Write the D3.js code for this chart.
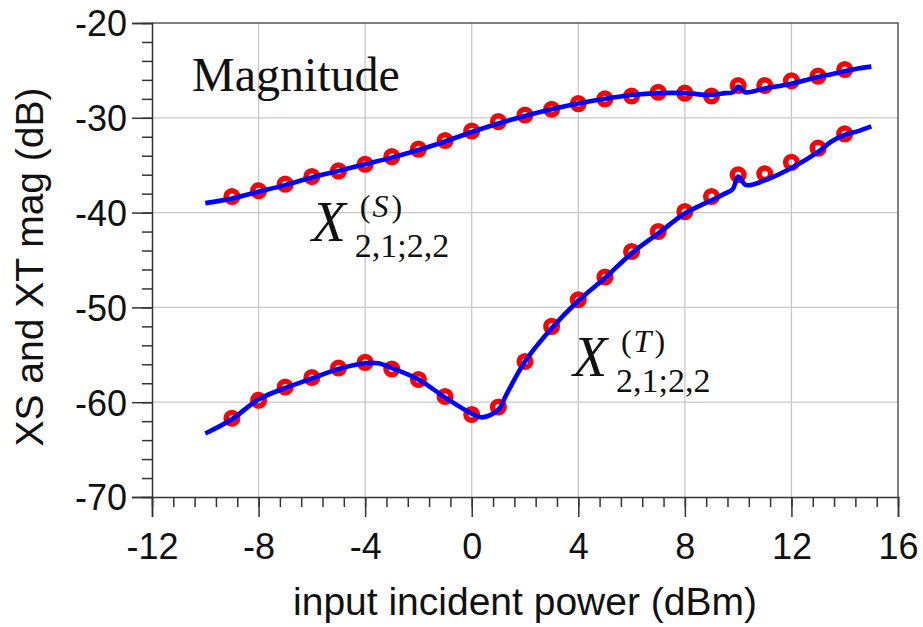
<!DOCTYPE html>
<html>
<head>
<meta charset="utf-8">
<script src="https://cdn.jsdelivr.net/npm/d3@7"></script>
<style>
  body { margin: 0; background: #fff; }
  svg { display: block; }
  .tick-label { font-family: "Liberation Sans", Arial, sans-serif; font-size: 36px; fill: #111; }
  .axis-title { font-family: "Liberation Sans", Arial, sans-serif; font-size: 39px; fill: #111; }
  .serif { font-family: "Liberation Serif", "Times New Roman", serif; fill: #111; }
</style>
</head>
<body>
<div id="chart"></div>
<script>
// measured points (red circles), x = input power in dBm
const markerPower = [-9, -8, -7, -6, -5, -4, -3, -2, -1, 0, 1, 2, 3, 4, 5, 6, 7, 8, 9, 10, 11, 12, 13, 14];
const xsMarkers = [-38.3, -37.7, -37.0, -36.2, -35.6, -34.9, -34.1, -33.3, -32.4, -31.4, -30.4, -29.7,
                   -29.1, -28.5, -28.0, -27.7, -27.3, -27.4, -27.7, -26.6, -26.6, -26.1, -25.6, -24.9];
const xtMarkers = [-61.7, -59.8, -58.4, -57.4, -56.4, -55.8, -56.5, -57.6, -59.4, -61.3, -60.5, -55.7,
                   -52.0, -49.2, -46.8, -44.1, -42.0, -39.9, -38.3, -36.0, -35.9, -34.7, -33.2, -31.7];

// simulated curves (blue lines)
const xsLinePower = [-10, -9, -8, -7, -6, -5, -4, -3, -2, -1, 0, 1, 2, 3, 4, 5, 6, 7, 8, 9, 9.5, 9.8, 10, 10.25,
                     11, 12, 13, 13.5, 14, 14.5, 15];
const xsLine = [-39.0, -38.5, -37.8, -37.1, -36.3, -35.6, -34.9, -34.2, -33.4, -32.5, -31.5, -30.6, -29.8,
                -29.1, -28.5, -28.0, -27.6, -27.4, -27.4, -27.6, -27.4, -27.3, -26.7, -27.3,
                -26.9, -26.4, -25.7, -25.4, -25.1, -24.8, -24.6];
const xtLinePower = [-10, -9, -8, -7, -6, -5, -4, -3.5, -3, -2, -1, 0, 0.4, 1, 1.3, 2, 3, 4, 5, 6, 7, 8, 9,
                     9.5, 9.8, 10, 10.3, 11, 12, 13, 13.5, 14, 14.5, 15];
const xtLine = [-63.3, -61.8, -59.7, -58.5, -57.5, -56.5, -55.9, -55.9, -56.4, -57.6, -59.5, -61.2, -61.6,
                -60.8, -59.2, -55.7, -52.2, -49.3, -46.9, -44.3, -42.2, -40.1, -38.7,
                -38.0, -37.5, -36.2, -37.1, -36.6, -35.3, -33.6, -32.5, -31.8, -31.4, -30.9];

const xTicks = [-12, -8, -4, 0, 4, 8, 12, 16];
const yTicks = [-70, -60, -50, -40, -30, -20];

const width = 923, height = 627;
const margin = { top: 23, right: 25, bottom: 130, left: 152 };

const svg = d3.select('#chart').append('svg')
    .attr('width', width)
    .attr('height', height);

const x = d3.scaleLinear().domain([-12, 16]).range([margin.left, width - margin.right]);
const y = d3.scaleLinear().domain([-70, -20]).range([height - margin.bottom, margin.top]);

// grid
svg.append('g').selectAll('line').data(xTicks.slice(1, -1)).join('line')
    .attr('x1', d => x(d)).attr('x2', d => x(d))
    .attr('y1', y(-70)).attr('y2', y(-20))
    .attr('stroke', '#c8c8c8').attr('stroke-width', 1.3);
svg.append('g').selectAll('line').data(yTicks.slice(1, -1)).join('line')
    .attr('x1', x(-12)).attr('x2', x(16))
    .attr('y1', d => y(d)).attr('y2', d => y(d))
    .attr('stroke', '#c8c8c8').attr('stroke-width', 1.3);

// frame top / right
svg.append('path')
    .attr('d', `M${x(-12)},${y(-20)}H${x(16)}V${y(-70)}`)
    .attr('fill', 'none').attr('stroke', '#555').attr('stroke-width', 1.5);

// axes
const xMinor = d3.range(-12, 16.01, 0.8).map(v => +v.toFixed(2));
const yMinor = d3.range(-70, -19.99, 2);
const fmt = d => String(d);  // plain hyphen minus like the original

const xAxis = svg.append('g')
    .attr('transform', `translate(0,${y(-70)})`);
xAxis.call(d3.axisBottom(x).tickValues(xMinor).tickSize(10).tickFormat(''));
xAxis.call(g => g.select('.domain').remove());
xAxis.append('g')
    .call(d3.axisBottom(x).tickValues(xTicks).tickSize(20).tickPadding(8).tickFormat(fmt))
    .call(g => g.selectAll('text').attr('class', 'tick-label').attr('fill', null).attr('font-size', null).attr('font-family', null).attr('dy', '0.95em'));
xAxis.selectAll('.domain').attr('stroke', '#333').attr('stroke-width', 1.5);
xAxis.selectAll('.tick line').attr('stroke', '#333').attr('stroke-width', 1.5);

const yAxis = svg.append('g')
    .attr('transform', `translate(${x(-12)},0)`);
yAxis.call(d3.axisLeft(y).tickValues(yMinor).tickSize(10).tickFormat(''));
yAxis.call(g => g.select('.domain').remove());
yAxis.append('g')
    .call(d3.axisLeft(y).tickValues(yTicks).tickSize(20).tickPadding(5).tickFormat(fmt))
    .call(g => g.selectAll('text').attr('class', 'tick-label').attr('fill', null).attr('font-size', null).attr('font-family', null).attr('dy', '0.36em'));
yAxis.selectAll('.domain').attr('stroke', '#333').attr('stroke-width', 1.5);
yAxis.selectAll('.tick line').attr('stroke', '#333').attr('stroke-width', 1.5);

// axis titles
svg.append('text')
    .attr('class', 'axis-title')
    .attr('x', (x(-12) + x(16)) / 2)
    .attr('y', 615)
    .attr('text-anchor', 'middle')
    .text('input incident power (dBm)');
svg.append('text')
    .attr('class', 'axis-title')
    .attr('transform', `translate(43,${(y(-70) + y(-20)) / 2 + 7}) rotate(-90)`)
    .attr('text-anchor', 'middle')
    .text('XS and XT mag (dB)');

// curves
const line = d3.line().curve(d3.curveCatmullRom.alpha(0.5));
const drawSeries = (px, py, lx, ly) => {
    svg.append('g').selectAll('circle').data(px).join('circle')
        .attr('cx', d => x(d))
        .attr('cy', (d, i) => y(py[i]))
        .attr('r', 5.8)
        .attr('fill', 'none')
        .attr('stroke', '#ff0000')
        .attr('stroke-width', 5.5);
    svg.append('path')
        .datum(lx.map((d, i) => [x(d), y(ly[i])]))
        .attr('fill', 'none')
        .attr('stroke', '#0000ff')
        .attr('stroke-width', 4.6)
        .attr('stroke-linejoin', 'round')
        .attr('d', line);
};
drawSeries(markerPower, xsMarkers, xsLinePower, xsLine);
drawSeries(markerPower, xtMarkers, xtLinePower, xtLine);

// annotations
svg.append('text')
    .attr('class', 'serif')
    .attr('x', x(-10.5)).attr('y', y(-27.15))
    .attr('font-size', 48)
    .text('Magnitude');

function xLabel(px, py, sup) {
    const g = svg.append('g').attr('transform', `translate(${x(px)},${y(py)})`);
    g.append('text').attr('class', 'serif').attr('font-size', 56).attr('font-style', 'italic')
        .text('X');
    const s = g.append('text').attr('class', 'serif').attr('font-size', 32)
        .attr('x', 48).attr('y', -24);
    s.append('tspan').text('(');
    s.append('tspan').attr('dx', 2).attr('font-style', 'italic').text(sup);
    s.append('tspan').attr('dx', 3).text(')');
    g.append('text').attr('class', 'serif').attr('font-size', 34)
        .attr('x', 43).attr('y', 16)
        .text('2,1;2,2');
}
xLabel(-6.0, -43.0, 'S');
xLabel(3.8, -57.2, 'T');
</script>
</body>
</html>
